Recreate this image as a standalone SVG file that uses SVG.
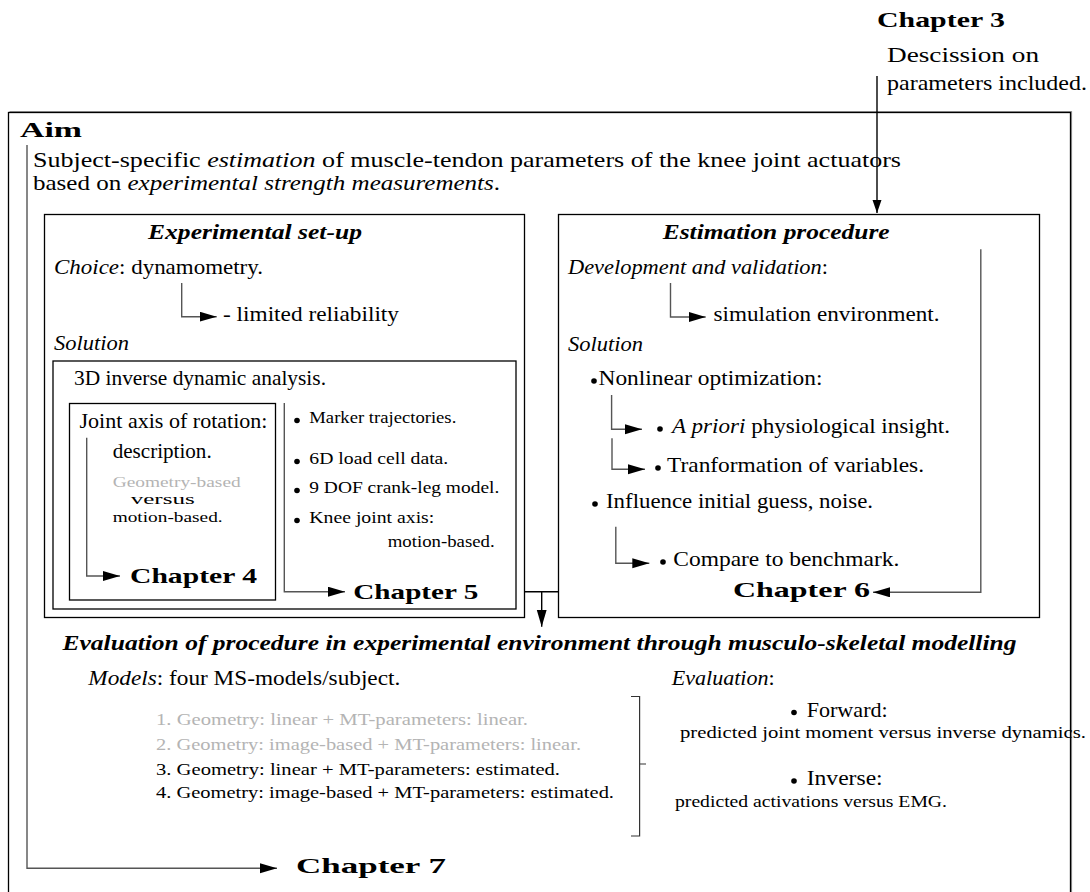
<svg xmlns="http://www.w3.org/2000/svg" width="1090" height="892" viewBox="0 0 1090 892">
<defs>
<style>
.t{font-family:"Liberation Serif","Times New Roman",serif;font-size:21px;fill:#000}
.s{font-size:17px}
.x{font-size:15px}
.i{font-style:italic}
.b{font-weight:bold}
.g{fill:#b4b4b4}
.box{fill:none;stroke:#000;stroke-width:1.3}
.ln{fill:none;stroke:#555;stroke-width:1.4}
.blk{fill:none;stroke:#000;stroke-width:1.4}
</style>
<marker id="ah" markerUnits="userSpaceOnUse" markerWidth="18" markerHeight="11" refX="17" refY="5" orient="auto">
<path d="M0,0 L17,5 L0,10 Z" fill="#000"/>
</marker>
<marker id="ahs" markerUnits="userSpaceOnUse" markerWidth="14" markerHeight="10" refX="13" refY="4.5" orient="auto">
<path d="M0,0 L13,4.5 L0,9 Z" fill="#000"/>
</marker>
</defs>
<rect width="1090" height="892" fill="#fff"/>

<g id="chapter3">
<text class="t b" x="877" y="27" font-size="25" textLength="128" lengthAdjust="spacingAndGlyphs">Chapter 3</text>
<text class="t" x="887" y="62" font-size="18" textLength="152" lengthAdjust="spacingAndGlyphs">Descission on</text>
<text class="t" x="887" y="90" font-size="18" textLength="200" lengthAdjust="spacingAndGlyphs">parameters included.</text>
</g>

<g id="aim">
<path d="M8.5,112.5 H1070.5 V900" fill="none" stroke="#999" stroke-width="1.2" transform="translate(1,-1)"/>
<rect class="box" x="8.5" y="112.5" width="1062" height="800" stroke-width="1.5"/>
<text class="t b" x="20" y="137" font-size="30" textLength="62" lengthAdjust="spacingAndGlyphs">Aim</text>
<text class="t" x="33" y="167" textLength="868" lengthAdjust="spacingAndGlyphs">Subject-specific <tspan class="i">estimation</tspan> of muscle-tendon parameters of the knee joint actuators</text>
<text class="t" x="33" y="189.5" textLength="467" lengthAdjust="spacingAndGlyphs">based on <tspan class="i">experimental strength measurements</tspan>.</text>
</g>

<g id="experimental-setup">
<rect class="box" x="44.5" y="214.5" width="480" height="403"/>
<text class="t b i" x="148" y="239" textLength="214" lengthAdjust="spacingAndGlyphs">Experimental set-up</text>
<text class="t" x="54" y="274" textLength="209" lengthAdjust="spacingAndGlyphs"><tspan class="i">Choice</tspan>: dynamometry.</text>
<text class="t" x="223" y="321" textLength="176" lengthAdjust="spacingAndGlyphs">- limited reliability</text>
<text class="t i" x="54" y="350" textLength="75" lengthAdjust="spacingAndGlyphs">Solution</text>
</g>

<g id="solution-box">
<rect class="box" x="53" y="361" width="463" height="248" stroke="#333"/>
<text class="t" x="74" y="385" textLength="252" lengthAdjust="spacingAndGlyphs">3D inverse dynamic analysis.</text>
</g>

<g id="joint-axis">
<rect class="box" x="69.5" y="403.5" width="206" height="196.5"/>
<text class="t" x="79.5" y="428" textLength="188" lengthAdjust="spacingAndGlyphs">Joint axis of rotation:</text>
<text class="t" x="112.7" y="458" textLength="99" lengthAdjust="spacingAndGlyphs">description.</text>
<text class="t x g" x="112.7" y="487" textLength="128" lengthAdjust="spacingAndGlyphs">Geometry-based</text>
<text class="t x" x="130.7" y="504" textLength="64" lengthAdjust="spacingAndGlyphs">versus</text>
<text class="t x" x="112.7" y="521.7" textLength="110" lengthAdjust="spacingAndGlyphs">motion-based.</text>
<text class="t b" x="130" y="583" font-size="26" textLength="127" lengthAdjust="spacingAndGlyphs">Chapter 4</text>
</g>

<g id="ida-inputs">
<circle cx="297" cy="420.5" r="2.8"/>
<text class="t s" x="309.3" y="423.3" textLength="147" lengthAdjust="spacingAndGlyphs">Marker trajectories.</text>
<circle cx="297" cy="461.5" r="2.8"/>
<text class="t s" x="309.3" y="464.3" textLength="139" lengthAdjust="spacingAndGlyphs">6D load cell data.</text>
<circle cx="297" cy="490.5" r="2.8"/>
<text class="t s" x="309.3" y="493.3" textLength="190" lengthAdjust="spacingAndGlyphs">9 DOF crank-leg model.</text>
<circle cx="297" cy="520.5" r="2.8"/>
<text class="t s" x="309.3" y="523.3" textLength="125" lengthAdjust="spacingAndGlyphs">Knee joint axis:</text>
<text class="t s" x="387.7" y="546.7" textLength="107" lengthAdjust="spacingAndGlyphs">motion-based.</text>
<text class="t b" x="353.3" y="599.3" font-size="26" textLength="125" lengthAdjust="spacingAndGlyphs">Chapter 5</text>
</g>

<g id="estimation-procedure">
<rect class="box" x="558.5" y="214.5" width="481" height="403"/>
<text class="t b i" x="662.7" y="239.3" textLength="227" lengthAdjust="spacingAndGlyphs">Estimation procedure</text>
<text class="t" x="568" y="274" textLength="260" lengthAdjust="spacingAndGlyphs"><tspan class="i">Development and validation</tspan>:</text>
<text class="t" x="713.5" y="320.7" textLength="226" lengthAdjust="spacingAndGlyphs">simulation environment.</text>
<text class="t i" x="568" y="350.7" textLength="75" lengthAdjust="spacingAndGlyphs">Solution</text>
<circle cx="594" cy="381" r="2.8"/>
<text class="t" x="598.5" y="385" textLength="224" lengthAdjust="spacingAndGlyphs">Nonlinear optimization:</text>
<circle cx="660" cy="429" r="2.8"/>
<text class="t" x="672" y="432.7" textLength="278" lengthAdjust="spacingAndGlyphs"><tspan class="i">A priori</tspan> physiological insight.</text>
<circle cx="658" cy="468" r="2.8"/>
<text class="t" x="667" y="471.7" textLength="257" lengthAdjust="spacingAndGlyphs">Tranformation of variables.</text>
<circle cx="595" cy="504" r="2.8"/>
<text class="t" x="606" y="507.7" textLength="267" lengthAdjust="spacingAndGlyphs">Influence initial guess, noise.</text>
<circle cx="663" cy="562" r="2.8"/>
<text class="t" x="673.3" y="565.7" textLength="226" lengthAdjust="spacingAndGlyphs">Compare to benchmark.</text>
<text class="t b" x="733" y="596.7" font-size="26" textLength="137" lengthAdjust="spacingAndGlyphs">Chapter 6</text>
</g>

<g id="evaluation">
<text class="t b i" x="62.5" y="650" textLength="954" lengthAdjust="spacingAndGlyphs">Evaluation of procedure in experimental environment through musculo-skeletal modelling</text>
<text class="t" x="88.3" y="685" textLength="312" lengthAdjust="spacingAndGlyphs"><tspan class="i">Models</tspan>: four MS-models/subject.</text>
<text class="t s g" x="156" y="725" textLength="372" lengthAdjust="spacingAndGlyphs">1. Geometry: linear + MT-parameters: linear.</text>
<text class="t s g" x="156" y="750" textLength="425" lengthAdjust="spacingAndGlyphs">2. Geometry: image-based + MT-parameters: linear.</text>
<text class="t s" x="156" y="775" textLength="404" lengthAdjust="spacingAndGlyphs">3. Geometry: linear + MT-parameters: estimated.</text>
<text class="t s" x="156" y="798.3" textLength="458" lengthAdjust="spacingAndGlyphs">4. Geometry: image-based + MT-parameters: estimated.</text>
<path d="M631,696.5 H639.6 V836 H631 M639.6,764 H646" fill="none" stroke="#333" stroke-width="1.2"/>
<text class="t" x="671.7" y="685" textLength="103" lengthAdjust="spacingAndGlyphs"><tspan class="i">Evaluation</tspan>:</text>
<circle cx="794" cy="712.5" r="2.8"/>
<text class="t" x="806.7" y="716.7" textLength="81" lengthAdjust="spacingAndGlyphs">Forward:</text>
<text class="t s" x="680" y="738.3" textLength="406" lengthAdjust="spacingAndGlyphs">predicted joint moment versus inverse dynamics.</text>
<circle cx="794" cy="781" r="2.8"/>
<text class="t" x="806.7" y="785" textLength="76" lengthAdjust="spacingAndGlyphs">Inverse:</text>
<text class="t s" x="675" y="806.7" textLength="272" lengthAdjust="spacingAndGlyphs">predicted activations versus EMG.</text>
<text class="t b" x="296" y="873" font-size="31" textLength="150" lengthAdjust="spacingAndGlyphs">Chapter 7</text>
</g>

<g id="connectors">
<path class="blk" d="M877,76 V213" stroke-width="1" marker-end="url(#ahs)"/>
<path class="ln" d="M27,145 V868.3 H277" marker-end="url(#ah)"/>
<path class="ln" d="M181.7,283 V316.7 H216.7" marker-end="url(#ah)"/>
<path class="ln" d="M86.7,437.7 V576 H120" marker-end="url(#ah)"/>
<path class="ln" d="M284.3,403 V591.7 H345" marker-end="url(#ah)"/>
<path class="blk" d="M524.5,591.7 H558.5" stroke-width="2"/>
<path class="blk" d="M541.7,591.7 V626.7" stroke-width="1.6" marker-end="url(#ah)"/>
<path class="ln" d="M670.5,283 V317 H705.7" marker-end="url(#ah)"/>
<path class="ln" d="M611.6,395 V429.3 H642" marker-end="url(#ah)"/>
<path class="ln" d="M612,438.3 V469.3 H645" marker-end="url(#ah)"/>
<path class="ln" d="M615.8,526.7 V563.3 H649.3" marker-end="url(#ah)"/>
<path class="ln" d="M980.8,249.3 V592.3 H873" marker-end="url(#ah)"/>
</g>
</svg>
